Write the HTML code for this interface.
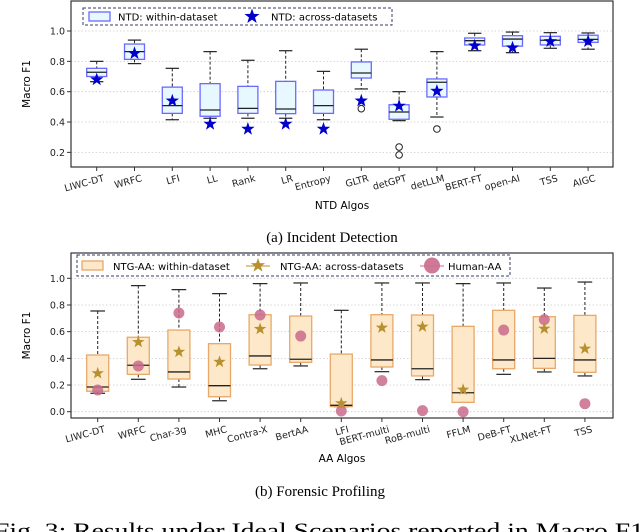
<!DOCTYPE html>
<html><head><meta charset="utf-8"><style>
body{margin:0;background:#fff;width:640px;height:532px;overflow:hidden}
svg{display:block;font-family:"DejaVu Sans","Liberation Sans",sans-serif}
.cap{font-family:"Liberation Serif",serif}
</style></head><body>
<svg id="c" width="640" height="532"></svg>
<script>
const ntdCats=["LIWC-DT","WRFC","LFI","LL","Rank","LR","Entropy","GLTR","detGPT","detLLM","BERT-FT","open-AI","TSS","AIGC"];
const ntdLo=[0.666,0.785,0.415,0.425,0.425,0.425,0.415,0.618,0.409,0.433,0.87,0.857,0.886,0.88];
const ntdQ1=[0.70,0.813,0.457,0.438,0.457,0.455,0.457,0.69,0.418,0.565,0.908,0.90,0.908,0.925];
const ntdMed=[0.728,0.864,0.508,0.479,0.49,0.486,0.508,0.723,0.466,0.662,0.936,0.947,0.939,0.945];
const ntdQ3=[0.754,0.914,0.63,0.653,0.635,0.668,0.611,0.796,0.514,0.684,0.954,0.969,0.965,0.972];
const ntdHi=[0.80,0.94,0.754,0.864,0.807,0.87,0.734,0.88,0.60,0.864,0.985,0.993,0.989,0.987];
const ntdStar=[0.68,0.853,0.54,0.387,0.354,0.387,0.354,0.54,0.506,0.604,0.903,0.89,0.932,0.932];
const ntdOut=[[],[],[],[],[],[],[],[0.488],[0.235,0.183],[0.354],[],[],[],[]];
const aaCats=["LIWC-DT","WRFC","Char-3g","MHC","Contra-X","BertAA","LFI","BERT-multi","RoB-multi","FFLM","DeB-FT","XLNet-FT","TSS"];
const aaLo=[0.138,0.243,0.185,0.082,0.322,0.343,0.038,0.30,0.24,0.07,0.28,0.298,0.268];
const aaQ1=[0.153,0.28,0.245,0.112,0.35,0.37,0.038,0.335,0.268,0.07,0.322,0.325,0.295];
const aaMed=[0.185,0.348,0.298,0.195,0.418,0.393,0.048,0.388,0.322,0.142,0.388,0.40,0.388];
const aaQ3=[0.425,0.558,0.612,0.51,0.727,0.717,0.432,0.727,0.725,0.64,0.76,0.712,0.722];
const aaHi=[0.755,0.945,0.915,0.885,0.96,0.965,0.76,0.965,0.965,0.96,0.965,0.927,0.972];
const aaStar=[0.288,0.522,0.448,0.373,0.62,null,0.063,0.63,0.637,0.165,null,0.622,0.472];
const aaHuman=[0.163,0.343,0.74,0.635,0.725,0.567,0.005,0.233,0.008,0.0,0.612,0.69,0.06];
const ntdTicks=[0.2,0.4,0.6,0.8,1.0];
const aaTicks=[0.0,0.2,0.4,0.6,0.8,1.0];

const S=document.getElementById('c');const NS="http://www.w3.org/2000/svg";
function mk(t,a,txt){const e=document.createElementNS(NS,t);for(const k in a)e.setAttribute(k,a[k]);if(txt!=null)e.textContent=txt;S.appendChild(e);return e;}
function starPts(cx,cy,R){let p=[];for(let i=0;i<10;i++){const r=i%2?R*0.4:R;const a=-Math.PI/2+i*Math.PI/5;p.push((cx+r*Math.cos(a)).toFixed(1)+","+(cy+r*Math.sin(a)).toFixed(1));}return p.join(" ");}

function panel(o){
  const yv=v=>o.y0-(v-o.v0)*o.k;
  const xv=i=>o.x0+i*o.dx;
  let e;
  o.ticks.forEach(t=>{
    e=mk('line',{x1:o.L,x2:o.R,y1:yv(t),y2:yv(t),stroke:'#ccc','stroke-dasharray':'1.5,2','stroke-width':0.8});
    
    e=mk('line',{x1:o.L-4,x2:o.L,y1:yv(t),y2:yv(t),stroke:'#333'});
    
    e=mk('text',{x:o.L-6,y:yv(t)+3.5,'font-size':9.5,'text-anchor':'end',fill:'#222'},t.toFixed(1));
    
  });
  o.cats.forEach((c,i)=>{
    const x=xv(i),w=o.bw;
    e=mk('line',{x1:x,x2:x,y1:yv(o.hi[i]),y2:yv(o.q3[i]),stroke:'#222','stroke-dasharray':'3,2'});
    
    e=mk('line',{x1:x,x2:x,y1:yv(o.q1[i]),y2:yv(o.lo[i]),stroke:'#222','stroke-dasharray':'3,2'});
    
    [o.hi[i],o.lo[i]].forEach(v=>{e=mk('line',{x1:x-w/3,x2:x+w/3,y1:yv(v),y2:yv(v),stroke:'#222','stroke-width':1.2});
      });
    e=mk('rect',{x:x-w/2,y:yv(o.q3[i]),width:w,height:yv(o.q1[i])-yv(o.q3[i]),fill:o.fill,stroke:o.edge,'stroke-width':1.3});
    
    e=mk('line',{x1:x-w/2,x2:x+w/2,y1:yv(o.med[i]),y2:yv(o.med[i]),stroke:'#222','stroke-width':1.3});
    
    if(o.out)o.out[i].forEach(v=>{e=mk('circle',{cx:x,cy:yv(v),r:3.3,fill:'none',stroke:'#222'});
      });
    if(o.human){e=mk('circle',{cx:x,cy:yv(o.human[i]),r:5.5,fill:'#c96a8c','fill-opacity':0.85});
      }
    if(o.star[i]!=null){e=mk('polygon',{points:starPts(x,yv(o.star[i]),o.sr),fill:o.sc});
      }
    e=mk('line',{x1:x,x2:x,y1:o.B,y2:o.B+4,stroke:'#333'});
    
    e=mk('text',{x:x+8,y:o.B+14,'font-size':9.5,'text-anchor':'end',fill:'#222',transform:`rotate(-15 ${x+8} ${o.B+14})`},c);
    
  });
  e=mk('rect',{x:o.L,y:o.T,width:o.R-o.L,height:o.B-o.T,fill:'none',stroke:'#333','stroke-width':1.2});
  
  e=mk('text',{x:30,y:(o.T+o.B)/2,'font-size':10.5,'text-anchor':'middle',transform:`rotate(-90 30 ${(o.T+o.B)/2})`},'Macro F1');
  
}

panel({cats:ntdCats,lo:ntdLo,q1:ntdQ1,med:ntdMed,q3:ntdQ3,hi:ntdHi,star:ntdStar,out:ntdOut,ticks:ntdTicks,
  v0:1.0,y0:31,k:151.7,x0:96.7,dx:37.8,bw:20,L:71,R:613,T:1,B:167,fill:'#e8f8ff',edge:'#6a6aff',sc:'#0000cc',sr:7});
panel({cats:aaCats,lo:aaLo,q1:aaQ1,med:aaMed,q3:aaQ3,hi:aaHi,star:aaStar,human:aaHuman,ticks:aaTicks,
  v0:0.0,y0:411.7,k:133.4,x0:97.7,dx:40.6,bw:22,L:71,R:613,T:253,B:418,fill:'#fde9c9',edge:'#e8a86a',sc:'#b8902e',sr:6.5});

let e;
e=mk('rect',{x:83,y:8,width:309,height:17,fill:'#fff',stroke:'#333c66','stroke-dasharray':'3,2'});

e=mk('rect',{x:89,y:12,width:21,height:9,fill:'#e8f8ff',stroke:'#6a6aff','stroke-width':1.3});

e=mk('text',{x:118,y:20.5,'font-size':10},'NTD: within-dataset');

e=mk('polygon',{points:starPts(252,16.5,8),fill:'#0000cc'});

e=mk('text',{x:271,y:20.5,'font-size':10},'NTD: across-datasets');

e=mk('rect',{x:77,y:255,width:433,height:21,fill:'#fff',stroke:'#333c66','stroke-dasharray':'3,2'});

e=mk('rect',{x:82,y:261,width:21,height:9,fill:'#fde9c9',stroke:'#e8a86a','stroke-width':1.3});

e=mk('text',{x:113,y:270,'font-size':10},'NTG-AA: within-dataset');

e=mk('line',{x1:246,x2:270,y1:266,y2:266,stroke:'#b8902e'});

e=mk('polygon',{points:starPts(258,265.5,7.5),fill:'#b8902e'});

e=mk('text',{x:280,y:270,'font-size':10},'NTG-AA: across-datasets');

e=mk('line',{x1:420,x2:444,y1:266,y2:266,stroke:'#c96a8c'});

e=mk('circle',{cx:432,cy:265.5,r:8,fill:'#c96a8c','fill-opacity':0.9});

e=mk('text',{x:448,y:270,'font-size':10},'Human-AA');

e=mk('text',{x:342,y:209,'font-size':10.5,'text-anchor':'middle'},'NTD Algos');

e=mk('text',{x:342,y:462,'font-size':10.5,'text-anchor':'middle'},'AA Algos');

e=mk('text',{x:332,y:242,'font-size':15,'text-anchor':'middle',class:'cap'},'(a) Incident Detection');

e=mk('text',{x:320,y:496,'font-size':15,'text-anchor':'middle',class:'cap'},'(b) Forensic Profiling');

e=mk('text',{x:-6,y:538,'font-size':22,class:'cap','textLength':650,'lengthAdjust':'spacingAndGlyphs'},'Fig. 3: Results under Ideal Scenarios reported in Macro F1');

</script>
</body></html>
